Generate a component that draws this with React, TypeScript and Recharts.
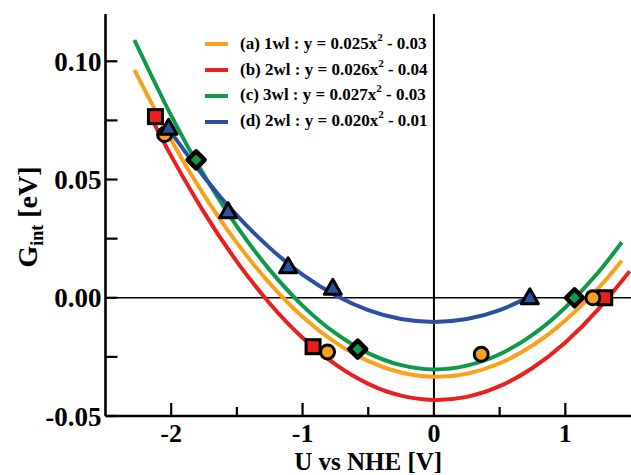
import React from 'react';
import { ComposedChart, Line, Scatter, XAxis, YAxis, ReferenceLine, Legend } from 'recharts';

const FONT = '"Liberation Serif", "Times New Roman", serif';
const ORANGE = '#F8A21C';
const RED = '#E8211F';
const GREEN = '#11994A';
const BLUE = '#2B50A2';

// fitted curves
const curveXa = [-2.28, -2.0, -1.75, -1.5, -1.25, -1.0, -0.75, -0.5, -0.25, 0, 0.25, 0.5, 0.75, 1.0, 1.25, 1.43];
const curveYa = [0.0964, 0.0667, 0.0434, 0.0232, 0.0061, -0.008, -0.0189, -0.0268, -0.0316, -0.0334, -0.0321, -0.0277, -0.0202, -0.0096, 0.004, 0.0157];
const curveXb = [-2.15, -2.0, -1.75, -1.5, -1.25, -1.0, -0.75, -0.5, -0.25, 0, 0.25, 0.5, 0.75, 1.0, 1.25, 1.49];
const curveYb = [0.0759, 0.06, 0.0361, 0.0153, -0.0024, -0.0169, -0.0282, -0.0364, -0.0414, -0.0432, -0.0419, -0.0374, -0.0297, -0.0189, -0.0049, 0.0112];
const curveXc = [-2.28, -2.0, -1.75, -1.5, -1.25, -1.0, -0.75, -0.5, -0.25, 0, 0.25, 0.5, 0.75, 1.0, 1.25, 1.43];
const curveYc = [0.109, 0.077, 0.0519, 0.0302, 0.0118, -0.0033, -0.015, -0.0234, -0.0285, -0.0303, -0.0287, -0.0239, -0.0157, -0.0041, 0.0107, 0.0235];
const curveXd = [-2.02, -1.75, -1.5, -1.25, -1.0, -0.75, -0.5, -0.25, 0, 0.25, 0.5, 0.73];
const curveYd = [0.0714, 0.0511, 0.0348, 0.0211, 0.0098, 0.0011, -0.0052, -0.009, -0.0102, -0.009, -0.0052, 0.0005];

// computed points
const circleX = [-2.05, -0.81, 0.36, 1.21];
const circleY = [0.069, -0.0229, -0.0239, 0.0];
const squareX = [-2.12, -0.92, 1.3];
const squareY = [0.0766, -0.0207, 0.0];
const diamondX = [-1.81, -0.58, 1.07];
const diamondY = [0.0583, -0.0217, 0.0];
const triangleX = [-2.02, -1.567, -1.11, -0.77, 0.73];
const triangleY = [0.0717, 0.0364, 0.0131, 0.004, 0.0];

const X_TICKS = [-2, -1.5, -1, -0.5, 0, 0.5, 1];
const Y_TICKS = [-0.05, -0.025, 0, 0.025, 0.05, 0.075, 0.1];
const X_LABELS: Record<string, string> = { '-2': '-2', '-1': '-1', '0': '0', '1': '1' };
const Y_LABELS: Record<string, string> = { '-0.05': '-0.05', '0': '0.00', '0.05': '0.05', '0.1': '0.10' };

const LEGEND_ITEMS = [
  { color: ORANGE, pre: '(a) 1wl : y = 0.025x', post: ' - 0.03' },
  { color: RED, pre: '(b) 2wl : y = 0.026x', post: ' - 0.04' },
  { color: GREEN, pre: '(c) 3wl : y = 0.027x', post: ' - 0.03' },
  { color: BLUE, pre: '(d) 2wl : y = 0.020x', post: ' - 0.01' },
];

const zip = (xs: number[], ys: number[]) => xs.map((x, i) => ({ x, y: ys[i] }));

const dataA = zip(curveXa, curveYa);
const dataB = zip(curveXb, curveYb);
const dataC = zip(curveXc, curveYc);
const dataD = zip(curveXd, curveYd);
const circles = zip(circleX, circleY);
const squares = zip(squareX, squareY);
const diamonds = zip(diamondX, diamondY);
const triangles = zip(triangleX, triangleY);

const BottomTick = (p: any) => {
  const { x, y, payload } = p;
  const lab = X_LABELS[String(payload.value)];
  return (
    <g>
      <line x1={x} x2={x} y1={y} y2={y - (lab ? 13 : 9)} stroke="#000" strokeWidth={2.2} />
      {lab && (
        <text x={x} y={y + 26} textAnchor="middle" fontFamily={FONT} fontWeight="bold" fontSize={26} fill="#000">
          {lab}
        </text>
      )}
    </g>
  );
};

const TopTick = (p: any) => {
  const { x, y, payload } = p;
  const lab = X_LABELS[String(payload.value)];
  return <line x1={x} x2={x} y1={y} y2={y + (lab ? 13 : 9)} stroke="#000" strokeWidth={2.2} />;
};

const LeftTick = (p: any) => {
  const { x, y, payload } = p;
  const lab = Y_LABELS[String(payload.value)];
  return (
    <g>
      <line x1={x} x2={x + 12} y1={y} y2={y} stroke="#000" strokeWidth={2.2} />
      {lab && (
        <text x={x - 4} y={y} dy="0.36em" textAnchor="end" fontFamily={FONT} fontWeight="bold" fontSize={27} fill="#000">
          {lab}
        </text>
      )}
    </g>
  );
};

const RightTick = (p: any) => {
  const { x, y } = p;
  return <line x1={x} x2={x - 12} y1={y} y2={y} stroke="#000" strokeWidth={2.2} />;
};

const XTitle = (p: any) => {
  const vb = p.viewBox || { x: 105.5, y: 416, width: 525.5, height: 50 };
  return (
    <text x={vb.x + vb.width / 2} y={vb.y + 54} textAnchor="middle" fontFamily={FONT} fontWeight="bold" fontSize={25} fill="#000">
      U vs NHE [V]
    </text>
  );
};

const YTitle = (p: any) => {
  const vb = p.viewBox || { x: 5.5, y: 14, width: 100, height: 402 };
  const cx = vb.x + 31;
  const cy = vb.y + vb.height / 2 + 2;
  return (
    <text x={cx} y={cy} transform={`rotate(-90, ${cx}, ${cy})`} textAnchor="middle" fontFamily={FONT} fontWeight="bold" fontSize={28} fill="#000">
      G<tspan fontSize={18} dy={6}>int</tspan>
      <tspan dy={-6}> [eV]</tspan>
    </text>
  );
};

const renderLegend = () => (
  <div style={{ fontFamily: FONT, fontWeight: 'bold', fontSize: 17, color: '#000' }}>
    {LEGEND_ITEMS.map((it) => (
      <div key={it.pre} style={{ display: 'flex', alignItems: 'center', height: 25.8, whiteSpace: 'nowrap' }}>
        <span style={{ display: 'inline-block', width: 23, height: 4, background: it.color, marginRight: 12 }} />
        <span style={{ lineHeight: '20px' }}>
          {it.pre}
          <span style={{ fontSize: 11, position: 'relative', top: -8 }}>2</span>
          {it.post}
        </span>
      </div>
    ))}
  </div>
);

const SquareShape = (p: any) => {
  const { cx, cy } = p;
  return <rect x={cx - 7} y={cy - 7} width={14} height={14} fill={RED} stroke="#000" strokeWidth={3} />;
};
const CircleShape = (p: any) => {
  const { cx, cy } = p;
  return <circle cx={cx} cy={cy} r={7} fill={ORANGE} stroke="#000" strokeWidth={3} />;
};
const DiamondShape = (p: any) => {
  const { cx, cy } = p;
  const r = 8.5;
  return (
    <polygon
      points={`${cx},${cy - r} ${cx + r},${cy} ${cx},${cy + r} ${cx - r},${cy}`}
      fill={GREEN}
      stroke="#000"
      strokeWidth={4.5}
      strokeLinejoin="round"
    />
  );
};
const TriangleShape = (p: any) => {
  const { cx, cy } = p;
  return (
    <polygon
      points={`${cx},${cy - 9} ${cx + 8.5},${cy + 6} ${cx - 8.5},${cy + 6}`}
      fill={BLUE}
      stroke="#000"
      strokeWidth={3}
      strokeLinejoin="round"
    />
  );
};

export default function App() {
  return (
    <div style={{ position: 'absolute', left: 0, top: 0, width: 631, height: 475, overflow: 'hidden', background: '#fff' }}>
      <ComposedChart width={640} height={475} margin={{ top: 14, right: 9, bottom: 9, left: 5.5 }}>
        <XAxis
          dataKey="x"
          type="number"
          domain={[-2.5, 1.5]}
          allowDataOverflow
          ticks={X_TICKS}
          interval={0}
          tickSize={0}
          tickMargin={0}
          tick={BottomTick}
          height={50}
          axisLine={{ stroke: '#000', strokeWidth: 2.6 }}
          label={<XTitle />}
        />
        <XAxis
          xAxisId="top"
          orientation="top"
          type="number"
          domain={[-2.5, 1.5]}
          allowDataOverflow
          ticks={X_TICKS}
          interval={0}
          tickSize={0}
          tickMargin={0}
          tick={TopTick}
          height={0}
          axisLine={{ stroke: '#000', strokeWidth: 2.6 }}
        />
        <YAxis
          dataKey="y"
          type="number"
          domain={[-0.05, 0.12]}
          allowDataOverflow
          ticks={Y_TICKS}
          interval={0}
          tickSize={0}
          tickMargin={0}
          tick={LeftTick}
          width={100}
          axisLine={{ stroke: '#000', strokeWidth: 2.6 }}
          label={<YTitle />}
        />
        <YAxis
          yAxisId="right"
          orientation="right"
          type="number"
          domain={[-0.05, 0.12]}
          allowDataOverflow
          ticks={Y_TICKS}
          interval={0}
          tickSize={0}
          tickMargin={0}
          tick={RightTick}
          width={0}
          axisLine={{ stroke: '#000', strokeWidth: 2.6 }}
        />
        <ReferenceLine y={0} stroke="#000" strokeWidth={1.5} />
        <ReferenceLine x={0} stroke="#000" strokeWidth={2} />
        <Scatter data={squares} dataKey="y" shape={SquareShape} isAnimationActive={false} legendType="none" />
        <Scatter data={circles} dataKey="y" shape={CircleShape} isAnimationActive={false} legendType="none" />
        <Scatter data={diamonds} dataKey="y" shape={DiamondShape} isAnimationActive={false} legendType="none" />
        <Line data={dataA} dataKey="y" type="natural" stroke={ORANGE} strokeWidth={4} dot={false} activeDot={false} isAnimationActive={false} />
        <Line data={dataB} dataKey="y" type="natural" stroke={RED} strokeWidth={4} dot={false} activeDot={false} isAnimationActive={false} />
        <Line data={dataC} dataKey="y" type="natural" stroke={GREEN} strokeWidth={4} dot={false} activeDot={false} isAnimationActive={false} />
        <Line data={dataD} dataKey="y" type="natural" stroke={BLUE} strokeWidth={4} dot={false} activeDot={false} isAnimationActive={false} />
        <Scatter data={triangles} dataKey="y" shape={TriangleShape} isAnimationActive={false} legendType="none" />
        <Legend
          content={renderLegend}
          layout="horizontal"
          verticalAlign="middle"
          align="center"
          wrapperStyle={{ left: 205, top: 31.5, width: 260 }}
        />
      </ComposedChart>
    </div>
  );
}
